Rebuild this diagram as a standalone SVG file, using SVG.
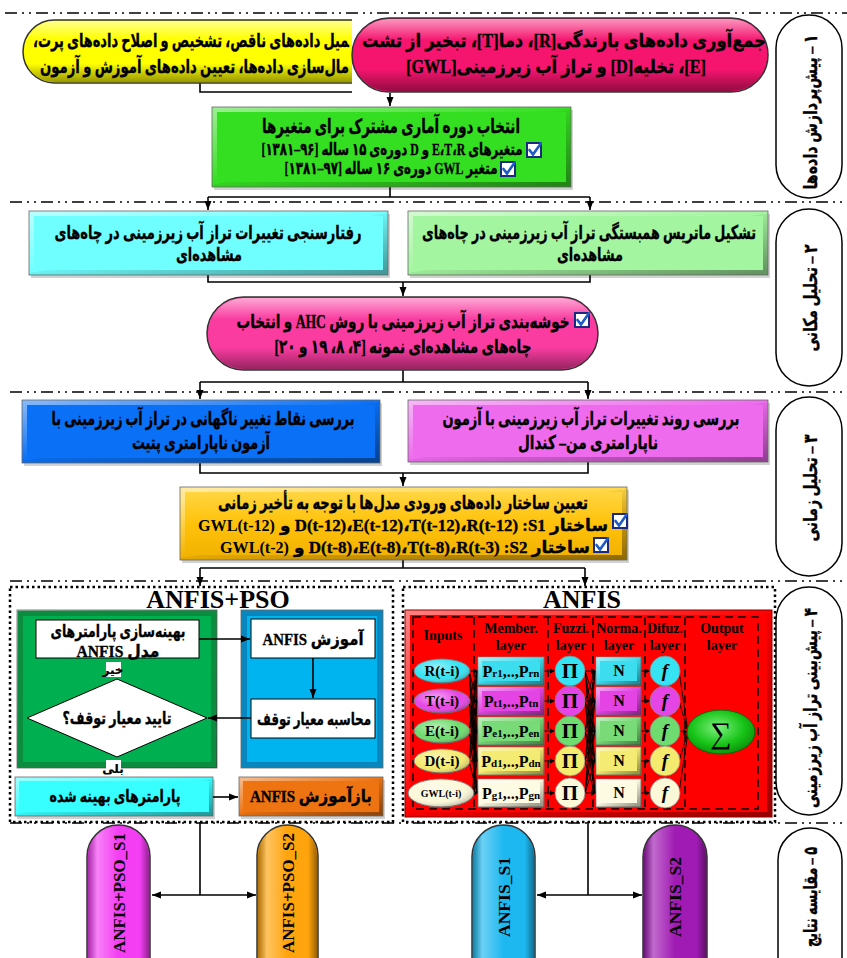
<svg xmlns="http://www.w3.org/2000/svg" width="847" height="958" viewBox="0 0 847 958">
<defs>
<style>
.fa{font-family:'Liberation Serif','DejaVu Sans',serif;font-weight:bold;font-size:19px;direction:rtl;unicode-bidi:embed;text-anchor:middle;fill:#000;stroke:#000;stroke-width:.35}
.la{font-family:'Liberation Serif',serif;font-weight:bold;text-anchor:middle;fill:#000}
.sep{stroke:#000;stroke-width:1.5;stroke-dasharray:12 5 2 5 2 5;fill:none}
.dot{stroke:#000;stroke-width:2.5;stroke-dasharray:2.5 3;fill:none}
.con{stroke:#000;stroke-width:1.6;fill:none}
.ar{marker-end:url(#ah)}
.thin{stroke:#000;stroke-width:0.9;fill:none}
.stage{fill:#fff;stroke:#000;stroke-width:1.5}
.wb{fill:#fff;stroke:#000;stroke-width:1}
.edge{fill:none;stroke:#666;stroke-width:.8}
.shadow{fill:#000;opacity:.18}
.bev{fill:none;stroke:url(#bev)}
.pill{stroke:#333;stroke-width:1.5}
</style>
<marker id="ah" markerWidth="10" markerHeight="10" refX="9" refY="5" orient="auto" markerUnits="userSpaceOnUse"><path d="M0,1.5 L9,5 L0,8.5 z" fill="#000"/></marker>
<marker id="as" markerWidth="6" markerHeight="6" refX="5" refY="3" orient="auto" markerUnits="userSpaceOnUse"><path d="M0,0.5 L5,3 L0,5.5 z" fill="#000"/></marker>
<linearGradient id="bev" x1="0" y1="0" x2="1" y2="1"><stop offset="0" stop-color="#fff" stop-opacity=".5"/><stop offset=".5" stop-color="#fff" stop-opacity="0"/><stop offset=".5" stop-color="#000" stop-opacity="0.05"/><stop offset="1" stop-color="#000" stop-opacity=".4"/></linearGradient>
<linearGradient id="glossV" x1="0" y1="0" x2="0" y2="1"><stop offset="0" stop-color="#fff" stop-opacity=".55"/><stop offset=".3" stop-color="#fff" stop-opacity="0"/><stop offset=".7" stop-color="#000" stop-opacity="0"/><stop offset="1" stop-color="#000" stop-opacity=".4"/></linearGradient>
<linearGradient id="glossH" x1="0" y1="0" x2="1" y2="0"><stop offset="0" stop-color="#000" stop-opacity=".3"/><stop offset=".15" stop-color="#fff" stop-opacity=".35"/><stop offset=".5" stop-color="#fff" stop-opacity="0"/><stop offset=".85" stop-color="#000" stop-opacity="0"/><stop offset="1" stop-color="#000" stop-opacity=".4"/></linearGradient>
<radialGradient id="ball" cx=".4" cy=".35" r=".7"><stop offset="0" stop-color="#fff" stop-opacity=".5"/><stop offset=".6" stop-color="#fff" stop-opacity="0"/><stop offset="1" stop-color="#000" stop-opacity=".3"/></radialGradient>
<linearGradient id="goldG" x1="0" y1="0" x2="0" y2="1"><stop offset="0" stop-color="#FFD84A"/><stop offset=".5" stop-color="#FFC20A"/><stop offset="1" stop-color="#F0B000"/></linearGradient>
<radialGradient id="outG" cx=".45" cy=".4" r=".65"><stop offset="0" stop-color="#7CF07C"/><stop offset=".6" stop-color="#17C417"/><stop offset="1" stop-color="#0B8A0B"/></radialGradient>
<symbol id="chk" viewBox="0 0 16 16"><rect x="1" y="1" width="14" height="14" fill="#fff" stroke="#1A2A80" stroke-width="2"/><path d="M3.5,8 L7,12.5 L15.5,0.5" fill="none" stroke="#1E5BC6" stroke-width="2.6" stroke-linecap="round"/></symbol>
</defs>

<rect width="847" height="958" fill="#fff"/>

<g id="separators">
<path class="sep" d="M5,13 H847 M10,202 H847 M10,392 H847 M10,581 H847 M10,823 H847"/>
</g>

<g id="connectors">
<path class="con" d="M200,83 V92 H390"/>
<path class="con ar" d="M390,92 V106"/>
<path class="con" d="M390,187 V197 M208,197 H590"/>
<path class="con ar" d="M208,197 V210"/>
<path class="con ar" d="M590,197 V210"/>
<path class="con" d="M208,275 V282 H590 V275"/>
<path class="con ar" d="M403,282 V296"/>
<path class="con" d="M403,370 V382 M200,382 H588"/>
<path class="con ar" d="M200,382 V399"/>
<path class="con ar" d="M588,382 V399"/>
<path class="con" d="M200,463 V473 H588 V462"/>
<path class="con ar" d="M403,473 V486"/>
<path class="con" d="M403,560 V568 M200,568 H585"/>
<path class="con ar" d="M200,568 V586"/>
<path class="con ar" d="M585,568 V586"/>
<path class="con" d="M200,822 V895"/>
<path class="con ar" d="M200,895 H152"/>
<path class="con ar" d="M200,895 H256"/>
<path class="con" d="M588,822 V895"/>
<path class="con ar" d="M588,895 H537"/>
<path class="con ar" d="M588,895 H642"/>
</g>

<g id="n-yellow">
<rect x="23" y="20" width="360" height="63" rx="31.5" fill="#FFFF00" class="pill"/>
<rect x="24" y="21" width="358" height="61" rx="30.5" fill="url(#glossV)"/>
<text class="fa" x="349" y="47" style="text-anchor:start" textLength="316" lengthAdjust="spacingAndGlyphs">&#x200D;میل داده&#x200C;های ناقص، تشخیص و اصلاح داده&#x200C;های پرت،</text>
<text class="fa" x="349" y="73" style="text-anchor:start" textLength="309" lengthAdjust="spacingAndGlyphs">مال&#x200C;سازی داده&#x200C;ها، تعیین داده&#x200C;های آموزش و آزمون</text>
</g>
<rect x="352" y="15" width="420" height="78" fill="#fff"/>
<g id="n-collect">
<rect x="352" y="18" width="416" height="74" rx="37" fill="#F5146E" class="pill"/>
<rect x="353" y="19" width="414" height="72" rx="36" fill="url(#glossV)"/>
<text class="fa" x="564" y="47" textLength="404" lengthAdjust="spacingAndGlyphs">جمع&#x200C;آوری داده&#x200C;های بارندگی[R]، دما[T]، تبخیر از تشت</text>
<text class="fa" x="556" y="73" textLength="300" lengthAdjust="spacingAndGlyphs">[E]، تخلیه[D] و تراز آب زیرزمینی[GWL]</text>
</g>

<g id="n-period">
<rect x="214" y="110" width="359" height="80" class="shadow"/>
<rect x="212" y="107" width="359" height="80" fill="#34DE20"/>
<rect x="214.5" y="109.5" width="354" height="75" class="bev" stroke-width="5"/>
<rect x="212" y="107" width="359" height="80" class="edge"/>
<text class="fa" x="391" y="133" style="font-size:20px" textLength="258" lengthAdjust="spacingAndGlyphs">انتخاب دوره آماری مشترک برای متغیرها</text>
<text class="fa" x="392" y="155" style="font-size:17px" textLength="261" lengthAdjust="spacingAndGlyphs">متغیرهای E،T،R و D دوره&#x200C;ی ۱۵ ساله [۹۶–۱۳۸۱]</text>
<use href="#chk" x="526" y="142" width="16" height="16"/>
<text class="fa" x="391" y="174" style="font-size:17px" textLength="213" lengthAdjust="spacingAndGlyphs">متغیر GWL دوره&#x200C;ی ۱۶ ساله [۹۷–۱۳۸۱]</text>
<use href="#chk" x="500" y="161" width="16" height="16"/>
</g>

<g id="n-behav">
<rect x="31" y="214" width="359" height="64" class="shadow"/>
<rect x="29" y="211" width="359" height="64" fill="#70FFFF"/>
<rect x="31.5" y="213.5" width="354" height="59" class="bev" stroke-width="5"/>
<rect x="29" y="211" width="359" height="64" class="edge"/>
<text class="fa" x="208" y="239" textLength="307" lengthAdjust="spacingAndGlyphs">رفتارسنجی تغییرات تراز آب زیرزمینی در چاه&#x200C;های</text>
<text class="fa" x="209" y="261" textLength="66" lengthAdjust="spacingAndGlyphs">مشاهده&#x200C;ای</text>
</g>
<g id="n-corr">
<rect x="410" y="214" width="360" height="64" class="shadow"/>
<rect x="408" y="211" width="360" height="64" fill="#A4F5A0"/>
<rect x="410.5" y="213.5" width="355" height="59" class="bev" stroke-width="5"/>
<rect x="408" y="211" width="360" height="64" class="edge"/>
<text class="fa" x="589" y="239" textLength="334" lengthAdjust="spacingAndGlyphs">تشکیل ماتریس همبستگی تراز آب زیرزمینی در چاه&#x200C;های</text>
<text class="fa" x="590" y="261" textLength="66" lengthAdjust="spacingAndGlyphs">مشاهده&#x200C;ای</text>
</g>
<g id="n-cluster">
<rect x="207" y="297" width="391" height="73" rx="36.5" fill="#FA3CA0" class="pill"/>
<rect x="208" y="298" width="389" height="71" rx="35.5" fill="url(#glossV)"/>
<text class="fa" x="403" y="328" textLength="333" lengthAdjust="spacingAndGlyphs">خوشه&#x200C;بندی تراز آب زیرزمینی با روش AHC و انتخاب</text>
<use href="#chk" x="574" y="312" width="16" height="16"/>
<text class="fa" x="403" y="353" textLength="257" lengthAdjust="spacingAndGlyphs">چاه&#x200C;های مشاهده&#x200C;ای نمونه [۴، ۸، ۱۹ و ۲۰]</text>
</g>

<g id="n-pettitt">
<rect x="24" y="403" width="358" height="63" class="shadow"/>
<rect x="22" y="400" width="358" height="63" fill="#0A70F5"/>
<rect x="24.5" y="402.5" width="353" height="58" class="bev" stroke-width="5"/>
<rect x="22" y="400" width="358" height="63" class="edge"/>
<text class="fa" x="203" y="425" textLength="303" lengthAdjust="spacingAndGlyphs">بررسی نقاط تغییر ناگهانی در تراز آب زیرزمینی با</text>
<text class="fa" x="201" y="449" textLength="138" lengthAdjust="spacingAndGlyphs">آزمون ناپارامتری پتیت</text>
</g>
<g id="n-mk">
<rect x="410" y="403" width="360" height="62" class="shadow"/>
<rect x="408" y="400" width="360" height="62" fill="#EE6BEE"/>
<rect x="410.5" y="402.5" width="355" height="57" class="bev" stroke-width="5"/>
<rect x="408" y="400" width="360" height="62" class="edge"/>
<text class="fa" x="591" y="425" textLength="297" lengthAdjust="spacingAndGlyphs">بررسی روند تغییرات تراز آب زیرزمینی با آزمون</text>
<text class="fa" x="588" y="449" textLength="140" lengthAdjust="spacingAndGlyphs">ناپارامتری من– کندال</text>
</g>
<g id="n-struct">
<rect x="182" y="490" width="447" height="73" class="shadow"/>
<rect x="180" y="487" width="447" height="73" fill="url(#goldG)"/>
<rect x="182.5" y="489.5" width="442" height="68" class="bev" stroke-width="5"/>
<rect x="180" y="487" width="447" height="73" class="edge"/>
<text class="fa" x="403" y="509" textLength="370" lengthAdjust="spacingAndGlyphs">تعیین ساختار داده&#x200C;های ورودی مدل&#x200C;ها با توجه به تأخیر زمانی</text>
<text class="la" x="198" y="531" style="font-size:17px;text-anchor:start" textLength="77" lengthAdjust="spacingAndGlyphs">GWL(t-12)</text>
<text class="fa" x="608" y="531" style="font-size:17px;text-anchor:start" textLength="328" lengthAdjust="spacingAndGlyphs">ساختار D(t-12)،E(t-12)،T(t-12)،R(t-12) :S1 و</text>
<use href="#chk" x="612" y="513" width="16" height="16"/>
<text class="la" x="220" y="553" style="font-size:17px;text-anchor:start" textLength="69" lengthAdjust="spacingAndGlyphs">GWL(t-2)</text>
<text class="fa" x="590" y="553" style="font-size:17px;text-anchor:start" textLength="296" lengthAdjust="spacingAndGlyphs">ساختار D(t-8)،E(t-8)،T(t-8)،R(t-3) :S2 و</text>
<use href="#chk" x="593" y="537" width="16" height="16"/>
</g>

<g id="n-anfispso">
<rect x="10" y="587" width="383" height="235" class="dot"/>
<text class="la" x="218" y="608" style="font-size:26px">ANFIS+PSO</text>
<rect x="17" y="610" width="200" height="158" fill="#0C8C3E"/>
<rect x="23" y="616" width="188" height="146" fill="#00B050"/>
<rect x="17.5" y="610.5" width="199" height="157" class="bev" stroke-width="1"/>
<rect x="241" y="610" width="142" height="158" fill="#0A86BE"/>
<rect x="247" y="616" width="130" height="146" fill="#00B4F0"/>
<rect x="17" y="610" width="200" height="158" class="edge"/>
<rect x="241" y="610" width="142" height="158" class="edge"/>
<rect x="36" y="620" width="163" height="38" class="wb"/>
<text class="fa" x="118" y="637" style="font-size:17px" textLength="135" lengthAdjust="spacingAndGlyphs">بهینه&#x200C;سازی پارامترهای</text>
<text class="fa" x="118" y="657" style="font-size:17px" textLength="83" lengthAdjust="spacingAndGlyphs">مدل ANFIS</text>
<rect x="106" y="662" width="15" height="15" fill="#fff"/>
<text class="fa" x="113" y="674" style="font-size:12px;stroke-width:.2">خیر</text>
<polygon points="27,718 117,679 207,718 117,757" class="wb"/>
<text class="fa" x="117" y="724" style="font-size:17px" textLength="109" lengthAdjust="spacingAndGlyphs">تایید معیار توقف؟</text>
<rect x="106" y="760" width="15" height="17" fill="#fff"/>
<text class="fa" x="113" y="773" style="font-size:12px;stroke-width:.2">بلی</text>
<rect x="251" y="619" width="124" height="39" class="wb"/>
<text class="fa" x="313" y="645" style="font-size:17px" textLength="101" lengthAdjust="spacingAndGlyphs">آموزش ANFIS</text>
<rect x="251" y="699" width="124" height="39" class="wb"/>
<text class="fa" x="314" y="725" style="font-size:17px" textLength="114" lengthAdjust="spacingAndGlyphs">محاسبه معیار توقف</text>
<path class="con ar" d="M199,639 H250"/>
<path class="con ar" d="M313,658 V698"/>
<path class="con ar" d="M251,718 H208"/>
<rect x="17" y="780" width="198" height="39" class="shadow"/>
<rect x="15" y="777" width="198" height="39" fill="#38FFFF"/>
<rect x="17" y="779" width="194" height="35" class="bev" stroke-width="4"/>
<rect x="15" y="777" width="198" height="39" class="edge"/>
<text class="fa" x="115" y="802" style="font-size:17px" textLength="131" lengthAdjust="spacingAndGlyphs">پارامترهای بهینه شده</text>
<rect x="241" y="780" width="144" height="39" class="shadow"/>
<rect x="239" y="777" width="144" height="39" fill="#EE7412"/>
<rect x="241" y="779" width="140" height="35" class="bev" stroke-width="4"/>
<rect x="239" y="777" width="144" height="39" class="edge"/>
<text class="fa" x="311" y="802" style="font-size:17px" textLength="122" lengthAdjust="spacingAndGlyphs">بازآموزش ANFIS</text>
<path class="con ar" d="M213,797 H238"/>
</g>

<g id="n-anfis">
<rect x="403" y="587" width="372" height="235" class="dot"/>
<text class="la" x="582" y="608" style="font-size:26px">ANFIS</text>
<rect x="405" y="610" width="367" height="207" fill="#FF0000"/>
<rect x="407.5" y="612.5" width="362" height="202" class="bev" stroke-width="5"/>
<rect x="405" y="610" width="367" height="207" fill="none" stroke="#8B0000" stroke-width="1"/>
<path d="M413,617 H758 V809 H413 Z M474,617 V809 M548,617 V809 M593,617 V809 M645,617 V809 M685,617 V809" fill="none" stroke="#000" stroke-width="1.5" stroke-dasharray="8 5"/>
<g class="la" style="font-size:14px">
<text x="443" y="640">Inputs</text>
<text x="511" y="633">Member.</text><text x="511" y="650">layer</text>
<text x="571" y="633">Fuzzi.</text><text x="571" y="650">layer</text>
<text x="619" y="633">Norma.</text><text x="619" y="650">layer</text>
<text x="665" y="633">Difuz.</text><text x="665" y="650">layer</text>
<text x="722" y="633">Output</text><text x="722" y="650">layer</text>
</g>
<path class="thin" d="M469,671L477,671M469,671L477,701M469,671L477,731M469,671L477,761M469,671L477,793M469,701L477,671M469,701L477,701M469,701L477,731M469,701L477,761M469,701L477,793M469,731L477,671M469,731L477,701M469,731L477,731M469,731L477,761M469,731L477,793M469,761L477,671M469,761L477,701M469,761L477,731M469,761L477,761M469,761L477,793M473,793L477,671M473,793L477,701M473,793L477,731M473,793L477,761M473,793L477,793"/>
<path class="thin" d="M585,671L595,671M585,671L595,701M585,671L595,731M585,671L595,761M585,671L595,793M585,701L595,671M585,701L595,701M585,701L595,731M585,701L595,761M585,701L595,793M585,731L595,671M585,731L595,701M585,731L595,731M585,731L595,761M585,731L595,793M585,761L595,671M585,761L595,701M585,761L595,731M585,761L595,761M585,761L595,793M585,793L595,671M585,793L595,701M585,793L595,731M585,793L595,761M585,793L595,793"/>
<g fill="#000">
<polygon points="473,668 478,671 473,674"/><polygon points="473,698 478,701 473,704"/><polygon points="473,728 478,731 473,734"/><polygon points="473,758 478,761 473,764"/><polygon points="473,790 478,793 473,796"/>
<polygon points="591,668 596,671 591,674"/><polygon points="591,698 596,701 591,704"/><polygon points="591,728 596,731 591,734"/><polygon points="591,758 596,761 591,764"/><polygon points="591,790 596,793 591,796"/>
</g>
<path class="thin" style="marker-end:url(#as)" d="M544,671H555"/>
<path class="thin" style="marker-end:url(#as)" d="M544,701H555"/>
<path class="thin" style="marker-end:url(#as)" d="M544,731H555"/>
<path class="thin" style="marker-end:url(#as)" d="M544,761H555"/>
<path class="thin" style="marker-end:url(#as)" d="M544,793H555"/>
<path class="thin" style="marker-end:url(#as)" d="M641,671H650"/>
<path class="thin" style="marker-end:url(#as)" d="M641,701H650"/>
<path class="thin" style="marker-end:url(#as)" d="M641,731H650"/>
<path class="thin" style="marker-end:url(#as)" d="M641,761H650"/>
<path class="thin" style="marker-end:url(#as)" d="M641,793H650"/>
<path class="thin" d="M679,671L688,732M679,701L688,732M679,731L688,732M679,761L688,732M679,793L688,732"/>
<polygon points="683,729 688,732 683,735" fill="#000"/>
<g stroke="#777" stroke-width="1">
<ellipse cx="442" cy="671" rx="28" ry="12" fill="#35E3F2"/>
<ellipse cx="442" cy="701" rx="28" ry="12" fill="#E545E5"/>
<ellipse cx="442" cy="731" rx="28" ry="12" fill="#6EDC6E"/>
<ellipse cx="442" cy="761" rx="28" ry="12" fill="#F4EA6E"/>
<ellipse cx="441" cy="793" rx="33" ry="14" fill="#FBF8D8"/>
</g>
<g fill="url(#ball)">
<ellipse cx="442" cy="671" rx="28" ry="12"/><ellipse cx="442" cy="701" rx="28" ry="12"/><ellipse cx="442" cy="731" rx="28" ry="12"/><ellipse cx="442" cy="761" rx="28" ry="12"/><ellipse cx="441" cy="793" rx="33" ry="14"/>
</g>
<g class="la" style="font-size:15px">
<text x="442" y="676">R(t-i)</text><text x="442" y="706">T(t-i)</text><text x="442" y="736">E(t-i)</text><text x="442" y="766">D(t-i)</text>
<text x="441" y="797" style="font-size:10px">GWL(t-i)</text>
</g>
<g stroke="#777" stroke-width=".8">
<rect x="478" y="657" width="66" height="28" fill="#3CDDEE"/>
<rect x="478" y="687" width="66" height="28" fill="#E444E4"/>
<rect x="478" y="717" width="66" height="28" fill="#78DB78"/>
<rect x="478" y="747" width="66" height="28" fill="#F4EB72"/>
<rect x="478" y="779" width="66" height="28" fill="#FDFBE2"/>
<rect x="596" y="657" width="45" height="28" fill="#3CDDEE"/>
<rect x="596" y="687" width="45" height="28" fill="#E444E4"/>
<rect x="596" y="717" width="45" height="28" fill="#78DB78"/>
<rect x="596" y="747" width="45" height="28" fill="#F4EB72"/>
<rect x="596" y="779" width="45" height="28" fill="#FDFBE2"/>
</g>
<g class="bev" stroke-width="4">
<rect x="480" y="659" width="62" height="24"/><rect x="480" y="689" width="62" height="24"/><rect x="480" y="719" width="62" height="24"/><rect x="480" y="749" width="62" height="24"/><rect x="480" y="781" width="62" height="24"/>
<rect x="598" y="659" width="41" height="24"/><rect x="598" y="689" width="41" height="24"/><rect x="598" y="719" width="41" height="24"/><rect x="598" y="749" width="41" height="24"/><rect x="598" y="781" width="41" height="24"/>
</g>
<g class="la" style="font-size:16px">
<text x="511" y="677">P<tspan style="font-size:11px">r1</tspan>,..,P<tspan style="font-size:11px">rn</tspan></text>
<text x="511" y="707">P<tspan style="font-size:11px">t1</tspan>,..,P<tspan style="font-size:11px">tn</tspan></text>
<text x="511" y="737">P<tspan style="font-size:11px">e1</tspan>,..,P<tspan style="font-size:11px">en</tspan></text>
<text x="511" y="767">P<tspan style="font-size:11px">d1</tspan>,..,P<tspan style="font-size:11px">dn</tspan></text>
<text x="511" y="799">P<tspan style="font-size:11px">g1</tspan>,..,P<tspan style="font-size:11px">gn</tspan></text>
<text x="619" y="676">N</text><text x="619" y="706">N</text><text x="619" y="736">N</text><text x="619" y="766">N</text><text x="619" y="798">N</text>
</g>
<g stroke="#888" stroke-width=".8">
<circle cx="570" cy="671" r="15" fill="#35E3F2"/><circle cx="570" cy="701" r="15" fill="#E545E5"/><circle cx="570" cy="731" r="15" fill="#6EDC6E"/><circle cx="570" cy="761" r="15" fill="#F4EA6E"/><circle cx="570" cy="793" r="15" fill="#FBF8D8"/>
<circle cx="665" cy="671" r="15" fill="#35E3F2"/><circle cx="665" cy="701" r="15" fill="#E545E5"/><circle cx="665" cy="731" r="15" fill="#6EDC6E"/><circle cx="665" cy="761" r="15" fill="#F4EA6E"/><circle cx="665" cy="793" r="15" fill="#FBF8D8"/>
</g>
<g class="la" style="font-size:21px">
<text x="570" y="678">Π</text><text x="570" y="708">Π</text><text x="570" y="738">Π</text><text x="570" y="768">Π</text><text x="570" y="800">Π</text>
</g>
<g class="la" style="font-size:19px;font-style:italic">
<text x="665" y="677">f</text><text x="665" y="707">f</text><text x="665" y="737">f</text><text x="665" y="767">f</text><text x="665" y="799">f</text>
</g>
<ellipse cx="721" cy="732" rx="34" ry="22" fill="url(#outG)" stroke="#0A6A0A" stroke-width="1"/>
<text class="la" x="721" y="743" style="font-size:30px;font-weight:normal">∑</text>
</g>

<g id="stage1"><rect x="776" y="15" width="66" height="183" rx="33" class="stage"/>
<text class="fa" transform="translate(817,112) rotate(-90)" textLength="155" lengthAdjust="spacingAndGlyphs">۱ – پیش&#x200C;پردازش داده&#x200C;ها</text></g>
<g id="stage2"><rect x="776" y="209" width="66" height="177" rx="33" class="stage"/>
<text class="fa" transform="translate(817,298) rotate(-90)" textLength="107" lengthAdjust="spacingAndGlyphs">۲ – تحلیل مکانی</text></g>
<g id="stage3"><rect x="776" y="397" width="66" height="179" rx="33" class="stage"/>
<text class="fa" transform="translate(817,488) rotate(-90)" textLength="107" lengthAdjust="spacingAndGlyphs">۳ – تحلیل زمانی</text></g>
<g id="stage4"><rect x="776" y="587" width="66" height="228" rx="33" class="stage"/>
<text class="fa" transform="translate(817,708) rotate(-90)" textLength="200" lengthAdjust="spacingAndGlyphs">۴ – پیش&#x200C;بینی تراز آب زیرزمینی</text></g>
<g id="stage5"><rect x="778" y="828" width="64" height="180" rx="32" class="stage"/>
<text class="fa" transform="translate(817,897) rotate(-90)" textLength="100" lengthAdjust="spacingAndGlyphs">۵ – مقایسه نتایج</text></g>

<g id="n-pso-s1"><rect x="87" y="825" width="63" height="185" rx="31.5" fill="#F43EF4" class="pill"/><rect x="88" y="826" width="61" height="183" rx="30.5" fill="url(#glossH)"/>
<text class="la" transform="translate(125,893) rotate(-90)" style="font-size:17px" textLength="120" lengthAdjust="spacingAndGlyphs">ANFIS+PSO_S1</text></g>
<g id="n-pso-s2"><rect x="257" y="825" width="61" height="185" rx="30.5" fill="#FFA40C" class="pill"/><rect x="258" y="826" width="59" height="183" rx="29.5" fill="url(#glossH)"/>
<text class="la" transform="translate(294,893) rotate(-90)" style="font-size:17px" textLength="120" lengthAdjust="spacingAndGlyphs">ANFIS+PSO_S2</text></g>
<g id="n-anfis-s1"><rect x="472" y="825" width="63" height="185" rx="31.5" fill="#1EB8F0" class="pill"/><rect x="473" y="826" width="61" height="183" rx="30.5" fill="url(#glossH)"/>
<text class="la" transform="translate(510,897) rotate(-90)" style="font-size:17px" textLength="80" lengthAdjust="spacingAndGlyphs">ANFIS_S1</text></g>
<g id="n-anfis-s2"><rect x="643" y="825" width="64" height="185" rx="32" fill="#A01BB3" class="pill"/><rect x="644" y="826" width="62" height="183" rx="31" fill="url(#glossH)"/>
<text class="la" transform="translate(681,897) rotate(-90)" style="font-size:17px" textLength="80" lengthAdjust="spacingAndGlyphs">ANFIS_S2</text></g>
</svg>
